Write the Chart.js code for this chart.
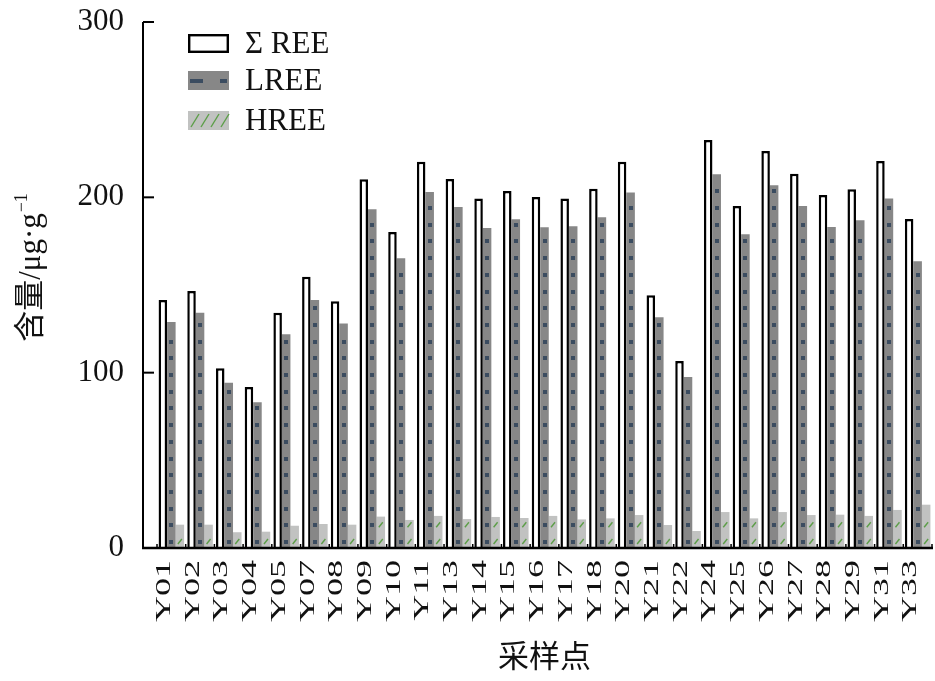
<!DOCTYPE html>
<html>
<head>
<meta charset="utf-8">
<script src="https://cdn.jsdelivr.net/npm/chart.js@4.4.1/dist/chart.umd.min.js"></script>
<style>
  html, body { margin: 0; padding: 0; background: #fff; }
  #wrap { width: 935px; height: 681px; }
</style>
</head>
<body>
<div id="wrap"><canvas id="grafico" width="935" height="681"></canvas></div>
<script>
// Datos
const puntos = ['Y01', 'Y02', 'Y03', 'Y04', 'Y05', 'Y07', 'Y08', 'Y09', 'Y10', 'Y11', 'Y13', 'Y14', 'Y15', 'Y16',
    'Y17', 'Y18', 'Y20', 'Y21', 'Y22', 'Y24', 'Y25', 'Y26', 'Y27', 'Y28', 'Y29', 'Y31', 'Y33'];
const sumaREE = [141.4, 146.6, 102.5, 91.8, 134.2, 154.7, 140.7, 210.3, 180.2, 220.3, 210.5, 199.4, 203.6, 200.2,
    199.4, 204.9, 220.3, 144.1, 106.7, 232.7, 195.1, 226.4, 213.5, 201.3, 204.6, 220.7, 187.6];
const lree = [128.9, 134.2, 94.3, 83.1, 121.9, 141.4, 128.1, 193.2, 165.2, 203.0, 194.5, 182.5, 187.5, 182.9,
    183.5, 188.6, 202.7, 131.6, 97.5, 213.1, 178.9, 206.9, 195.1, 183.1, 186.9, 199.4, 163.5];
const hree = [13.3, 13.3, 9.0, 9.3, 12.7, 13.7, 13.3, 17.9, 16.0, 18.3, 16.5, 17.7, 17.1, 18.3,
    16.3, 16.9, 18.8, 13.1, 9.7, 20.5, 16.9, 20.5, 18.8, 19.0, 18.3, 21.7, 24.7];
const series = ['Σ REE', 'LREE', 'HREE'];
const ejeY = { min: 0, max: 300, paso: 100 };

const FUENTE = "'Liberation Serif', 'Noto Sans CJK SC', serif";
const GRIS = '#878787', AZUL = '#3b4c60', CLARO = '#c1c2c1', VERDE = '#5c9e48';

// Marcas dentro de las barras, ejes, etiquetas y leyenda
const marcas = {
    id: 'marcas',
    afterDatasetsDraw(chart) {
        const ctx = chart.ctx;
        ctx.save();
        ctx.fillStyle = AZUL;
        chart.getDatasetMeta(1).data.forEach(bar => {
            for (let yy = bar.base - 6; yy > bar.y + 5; yy -= 16.7) {
                ctx.fillRect(Math.round(bar.x) - 2, Math.round(yy) - 2, 4, 4);
            }
        });
        ctx.strokeStyle = VERDE;
        ctx.lineWidth = 1.4;
        chart.getDatasetMeta(2).data.forEach(bar => {
            for (let yy = bar.base - 4; yy - 6 > bar.y; yy -= 16.7) {
                ctx.beginPath();
                ctx.moveTo(bar.x - 2, yy);
                ctx.lineTo(bar.x + 2, yy - 5);
                ctx.stroke();
            }
        });
        ctx.restore();
    },
    afterDraw(chart) {
        const { ctx, chartArea: area, scales: { x, y } } = chart;
        const x0 = area.left - 14;
        const y0 = y.getPixelForValue(ejeY.min);
        const paso = x.getPixelForValue(1) - x.getPixelForValue(0);
        ctx.save();
        ctx.strokeStyle = '#000';

        // eje Y con marcas hacia dentro
        ctx.lineWidth = 2;
        ctx.beginPath();
        ctx.moveTo(x0, y.getPixelForValue(ejeY.max));
        ctx.lineTo(x0, y0);
        ctx.stroke();
        y.ticks.forEach(t => {
            const py = y.getPixelForValue(t.value);
            ctx.beginPath();
            ctx.moveTo(x0, py);
            ctx.lineTo(x0 + 11, py);
            ctx.stroke();
        });

        // eje X
        ctx.lineWidth = 2.5;
        ctx.beginPath();
        ctx.moveTo(x0 - 1, y0);
        ctx.lineTo(area.right + 1, y0);
        ctx.stroke();
        ctx.lineWidth = 1.5;
        for (let i = 0; i <= puntos.length; i++) {
            const px = x.getPixelForValue(0) - paso / 2 + i * paso;
            ctx.beginPath();
            ctx.moveTo(px, y0);
            ctx.lineTo(px, y0 - 4);
            ctx.stroke();
        }

        // etiquetas del eje X, giradas y estrechas
        ctx.fillStyle = '#111';
        ctx.font = '36px ' + FUENTE;
        ctx.textAlign = 'right';
        ctx.textBaseline = 'middle';
        x.ticks.forEach((t, i) => {
            ctx.save();
            ctx.translate(x.getPixelForValue(i) - 7, y0 + 12);
            ctx.rotate(-Math.PI / 2);
            ctx.scale(1, 0.6);
            ctx.fillText(x.getLabelForValue(t.value), 0, 0);
            ctx.restore();
        });

        // título del eje Y
        ctx.save();
        ctx.translate(32, 268);
        ctx.rotate(-Math.PI / 2);
        ctx.font = '31px ' + FUENTE;
        const base = '含量/μg·g';
        const wBase = ctx.measureText(base).width;
        ctx.font = '18px ' + FUENTE;
        const wSup = ctx.measureText('−1').width;
        const inicio = -(wBase + wSup) / 2;
        ctx.textAlign = 'left';
        ctx.font = '31px ' + FUENTE;
        ctx.fillText(base, inicio, 0);
        ctx.font = '18px ' + FUENTE;
        ctx.fillText('−1', inicio + wBase + 1, -10);
        ctx.restore();

        // leyenda
        const filas = [44, 81, 121];
        ctx.font = '31px ' + FUENTE;
        ctx.textAlign = 'left';
        ctx.textBaseline = 'middle';
        series.forEach((nombre, i) => {
            const cy = filas[i];
            const bx = 188, by = cy - 10, bw = 41, bh = 19;
            if (i === 0) {
                ctx.fillStyle = '#fff';
                ctx.fillRect(bx, by, bw, bh);
                ctx.lineWidth = 2.4;
                ctx.strokeStyle = '#000';
                ctx.strokeRect(bx + 1.2, by + 1.2, bw - 2.4, bh - 2.4);
            } else if (i === 1) {
                ctx.fillStyle = GRIS;
                ctx.fillRect(bx, by, bw, bh);
                ctx.fillStyle = AZUL;
                ctx.fillRect(bx + 2, cy - 2, 13, 4);
                ctx.fillRect(bx + 32, cy - 2, 7, 4);
            } else {
                ctx.fillStyle = CLARO;
                ctx.fillRect(bx, by, bw, bh);
                ctx.strokeStyle = VERDE;
                ctx.lineWidth = 1.4;
                [3, 13, 23, 33].forEach(dx => {
                    ctx.beginPath();
                    ctx.moveTo(bx + dx, by + bh - 3);
                    ctx.lineTo(bx + dx + 8, by + 3);
                    ctx.stroke();
                });
            }
            ctx.fillStyle = '#111';
            ctx.fillText(nombre, 245, cy + 1);
        });
        ctx.restore();
    }
};

new Chart(document.getElementById('grafico'), {
    type: 'bar',
    data: {
        labels: puntos,
        datasets: [
            { label: series[0], data: sumaREE, backgroundColor: '#fff', borderColor: '#000', borderWidth: 2.5 },
            { label: series[1], data: lree, backgroundColor: GRIS },
            { label: series[2], data: hree, backgroundColor: CLARO }
        ]
    },
    options: {
        responsive: false,
        animation: false,
        layout: { padding: { top: 22, right: 3, left: 0, bottom: 0 } },
        datasets: { bar: { barPercentage: 1, categoryPercentage: 0.89 } },
        plugins: {
            legend: { display: false },
            tooltip: { enabled: false }
        },
        scales: {
            x: {
                grid: { display: false },
                border: { display: false },
                ticks: { display: false },
                title: {
                    display: true,
                    text: '采样点',
                    color: '#111',
                    font: { size: 31, family: FUENTE },
                    padding: { top: 0, bottom: 4 }
                },
                afterFit: scale => {
                    scale.height = 133;
                    scale.paddingLeft = 0;
                    scale.paddingRight = 0;
                }
            },
            y: {
                min: ejeY.min,
                max: ejeY.max,
                grid: { display: false, drawTicks: false },
                border: { display: false },
                ticks: {
                    stepSize: ejeY.paso,
                    padding: 33,
                    color: '#111',
                    font: { size: 31, family: FUENTE }
                },
                afterFit: scale => {
                    scale.width = 157;
                    scale.paddingTop = 0;
                    scale.paddingBottom = 0;
                }
            }
        }
    },
    plugins: [marcas]
});
</script>
</body>
</html>
